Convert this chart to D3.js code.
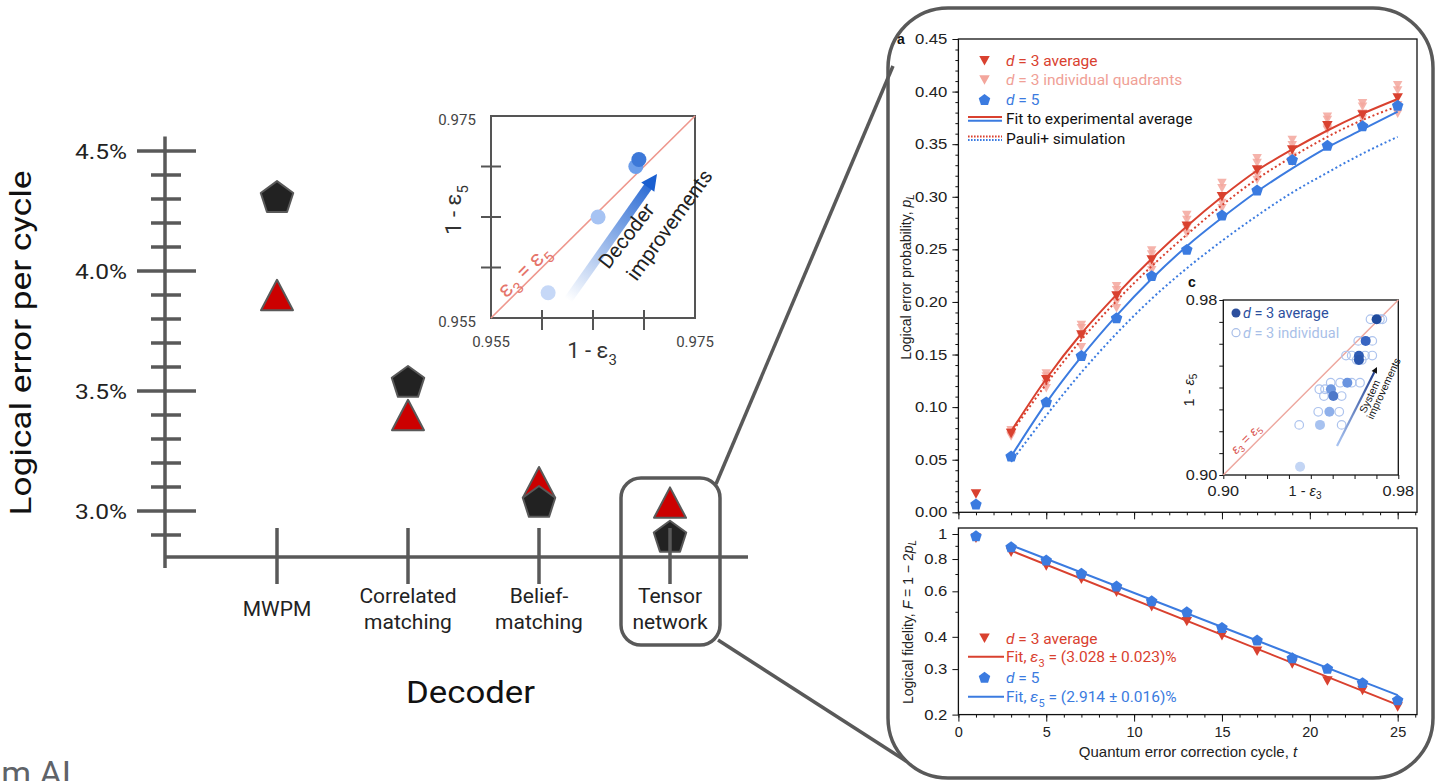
<!DOCTYPE html>
<html><head><meta charset="utf-8">
<script src="https://cdn.jsdelivr.net/npm/d3@7"></script>
<style>body{margin:0;background:#fff;} svg{display:block;}</style>
</head><body>
<script>
// ---------------- DATA ----------------
const decoders = ["MWPM", "Correlated\nmatching", "Belief-\nmatching", "Tensor\nnetwork"];
const errD3 = [3.90, 3.40, 3.12, 3.035];     // red triangles (d=3), %
const errD5 = [4.31, 3.54, 3.04, 2.895];     // black pentagons (d=5), %
const leftMajorTicks = [3.0, 3.5, 4.0, 4.5];
const leftTickLabels = ["3.0%", "3.5%", "4.0%", "4.5%"];
const triOnTop = [true, true, false, true];

const decInsetX = [0.9606, 0.9655, 0.9692, 0.9695];   // 1 - eps3
const decInsetY = [0.9575, 0.9650, 0.9700, 0.9707];   // 1 - eps5
const decInsetTicks = [0.960, 0.965, 0.970];
const decInsetLabels = ["0.955", "0.975"];

const cycles = [1,3,5,7,9,11,13,15,17,19,21,23,25];
const pD3avg = [0.0174,0.075,0.126,0.1685,0.2056,0.240,0.272,0.300,0.3254,0.3444,0.3675,0.3777,0.394];
const pD5    = [0.0079,0.0535,0.105,0.149,0.185,0.225,0.250,0.2826,0.3065,0.3355,0.349,0.3675,0.387];
const pD3quad = [
  [],
  [0.078,0.076,0.073,0.072],
  [0.132,0.129,0.122,0.118],
  [0.178,0.175,0.167,0.157],
  [0.215,0.211,0.200,0.194],
  [0.249,0.245,0.234,0.230],
  [0.2826,0.278,0.270,0.265],
  [0.313,0.308,0.294,0.289],
  [0.3365,0.332,0.3206,0.316],
  [0.354,0.349,0.338,0.333],
  [0.376,0.373,0.365,0.3634],
  [0.3888,0.3856,0.379,0.3745],
  [0.406,0.401,0.387,0.379]
];
const fitCycles = [3,5,7,9,11,13,15,17,19,21,23,25];
const pFitD3 = [0.077,0.127,0.170,0.207,0.241,0.272,0.300,0.325,0.345,0.363,0.379,0.393];
const pFitD5 = [0.053,0.104,0.148,0.187,0.222,0.253,0.280,0.305,0.327,0.347,0.364,0.381];
const pSimD3 = [0.075,0.122,0.164,0.201,0.234,0.264,0.292,0.317,0.338,0.357,0.373,0.386];
const pSimD5 = [0.048,0.092,0.133,0.170,0.203,0.232,0.258,0.282,0.304,0.323,0.341,0.357];
const pTickValues = [0,0.05,0.10,0.15,0.20,0.25,0.30,0.35,0.40,0.45];

const fD3 = [0.963,0.850,0.752,0.668,0.595,0.523,0.458,0.404,0.352,0.314,0.270,0.248,0.214];
const fD5 = [0.985,0.893,0.793,0.705,0.629,0.552,0.500,0.435,0.389,0.332,0.302,0.266,0.228];
const fitLineCycles = [3, 25];
const fFitD3 = [0.862, 0.218];
const fFitD5 = [0.905, 0.238];
const fTickValues = [0.2,0.3,0.4,0.6,0.8,1];
const fMinorValues = [0.5,0.7,0.9];
const cycleTicks = [0,5,10,15,20,25];

const cAvgX = [0.9351,0.9442,0.9485,0.9492,0.9503,0.9567,0.9620,0.9620,0.9651,0.9701];
const cAvgY = [0.9038,0.9229,0.9289,0.9392,0.9361,0.9422,0.9545,0.9526,0.9613,0.9712];
const cIndX = [0.9673,0.9716,0.9727,0.9617,0.9681,0.9561,0.9587,0.9648,0.9681,0.9610,0.9633,
               0.9491,0.9534,0.9587,0.9625,0.9439,0.9465,0.9460,0.9541,0.9434,0.9530,0.9347,0.9541];
const cIndY = [0.9712,0.9712,0.9712,0.9613,0.9613,0.9546,0.9546,0.9546,0.9546,0.9526,0.9526,
               0.9422,0.9422,0.9422,0.9422,0.9392,0.9392,0.9361,0.9361,0.9289,0.9289,0.9229,0.9229];
const cTickLabels = [0.90, 0.98];

// ---------------- STYLE ----------------
const AXC = "#595959";
const FL = "Roboto, 'Noto Sans', sans-serif";
const FR = "'Liberation Sans', Arial, sans-serif";
const RED = "#d9412f", PINK = "#f3a69c", BLUE = "#3b7be0";
const decInsetColors = ["#c6d8f7","#a6c3f3","#6d9eea","#3d78d8"];
const cAvgColors = ["#c3d5f4","#a7c2f0","#8fb0ea","#6f98e0","#4d78c9","#6a94df","#2f5cb5","#2a56ad","#3865c2","#1f4b9e"];

const svg = d3.select("body").append("svg").attr("width",1435).attr("height",781);
const defs = svg.append("defs");

function stretch(sel, k) {
  sel.each(function() {
    const w = this.getComputedTextLength();
    d3.select(this).attr("textLength", w * k).attr("lengthAdjust", "spacingAndGlyphs");
  });
  return sel;
}

// custom symbols (size = width^2)
const symTriUp = {draw(c,s){const w=Math.sqrt(s),h=w*0.95;c.moveTo(0,-h/2);c.lineTo(w/2,h/2);c.lineTo(-w/2,h/2);c.closePath();}};
const symTriDown = {draw(c,s){const w=Math.sqrt(s),h=w*0.9;c.moveTo(0,h/2);c.lineTo(w/2,-h/2);c.lineTo(-w/2,-h/2);c.closePath();}};
const symPent = {draw(c,s){const w=Math.sqrt(s),r=w/1.902,off=0.0955*r;for(let k=0;k<5;k++){const a=-Math.PI/2+k*2*Math.PI/5;const x=r*Math.cos(a),y=r*Math.sin(a)+off;k?c.lineTo(x,y):c.moveTo(x,y);}c.closePath();}};
const sym = (t,w) => d3.symbol().type(t).size(w*w)();

// ================= LEFT CHART =================
const xL = d3.scalePoint().domain(decoders).range([277, 670]);
const yL = d3.scaleLinear().domain([3.0, 4.5]).range([511, 151]);
const gM = svg.append("g");
decoders.forEach((d,i) => {
  const x = xL(d);
  const tri = () => gM.append("path").attr("d", sym(symTriUp, 32))
    .attr("transform", `translate(${x},${yL(errD3[i])})`)
    .attr("fill","#cc0000").attr("stroke",AXC).attr("stroke-width",2).attr("stroke-linejoin","round");
  const pent = () => gM.append("path").attr("d", sym(symPent, 32.5))
    .attr("transform", `translate(${x},${yL(errD5[i])})`)
    .attr("fill","#222").attr("stroke",AXC).attr("stroke-width",2).attr("stroke-linejoin","round");
  if (triOnTop[i]) { pent(); tri(); } else { tri(); pent(); }
});

const gAx = svg.append("g").attr("stroke", AXC).attr("stroke-width", 3.5);
gAx.append("line").attr("x1",165).attr("x2",165).attr("y1",yL(4.56)).attr("y2",yL(2.7625));
leftMajorTicks.forEach(v => gAx.append("line").attr("x1",137).attr("x2",196).attr("y1",yL(v)).attr("y2",yL(v)));
d3.range(29,45).filter(k => k%5 !== 0).forEach(k => {
  const y = yL(k/10);
  gAx.append("line").attr("x1",151).attr("x2",181).attr("y1",y).attr("y2",y);
});
gAx.append("line").attr("x1",165).attr("x2",748).attr("y1",557).attr("y2",557);
decoders.forEach(d => gAx.append("line").attr("x1",xL(d)).attr("x2",xL(d)).attr("y1",528).attr("y2",584));

leftMajorTicks.forEach((v,i) => svg.append("text").attr("x",127).attr("y",yL(v)+8)
  .attr("text-anchor","end").attr("font-family",FL).attr("font-size",21).attr("fill","#222")
  .attr("textLength",52).attr("lengthAdjust","spacingAndGlyphs").text(leftTickLabels[i]));

decoders.forEach(d => {
  const lines = d.split("\n"), n = lines.length;
  lines.forEach((s,k) => svg.append("text").attr("x",xL(d)).attr("y",616 + (k-(n-1)/2)*26)
    .attr("text-anchor","middle").attr("font-family",FL).attr("font-size",21).attr("fill","#222").text(s));
});
svg.append("text").attr("x",470.5).attr("y",703).attr("text-anchor","middle").attr("font-family",FL)
  .attr("font-size",32).attr("fill","#111").attr("textLength",129).attr("lengthAdjust","spacingAndGlyphs").text("Decoder");
svg.append("text").attr("transform","translate(31,343) rotate(-90)").attr("text-anchor","middle")
  .attr("font-family",FL).attr("font-size",29).attr("fill","#111")
  .attr("textLength",345).attr("lengthAdjust","spacingAndGlyphs").text("Logical error per cycle");

svg.append("text").attr("x",71).attr("y",785).attr("text-anchor","end").attr("font-family",FL)
  .attr("font-size",34).attr("fill","#5f6368").text("Google Quantum AI");

// Tensor network box & connectors
svg.append("rect").attr("x",621).attr("y",478).attr("width",99).attr("height",167).attr("rx",20)
  .attr("fill","none").attr("stroke",AXC).attr("stroke-width",3.5);
svg.append("line").attr("x1",716).attr("y1",484).attr("x2",893).attr("y2",66).attr("stroke",AXC).attr("stroke-width",3.5);
svg.append("line").attr("x1",718).attr("y1",640).attr("x2",906).attr("y2",761).attr("stroke",AXC).attr("stroke-width",3.5);

// ---------- left inset ----------
const xI = d3.scaleLinear().domain([0.955,0.975]).range([491,695]);
const yI = d3.scaleLinear().domain([0.955,0.975]).range([318,116]);
const gI = svg.append("g");
gI.append("rect").attr("x",xI(0.955)).attr("y",yI(0.975)).attr("width",xI(0.975)-xI(0.955))
  .attr("height",yI(0.955)-yI(0.975)).attr("fill","none").attr("stroke","#555").attr("stroke-width",2);
decInsetTicks.forEach(v => {
  gI.append("line").attr("x1",xI(0.955)-10).attr("x2",xI(0.955)+10).attr("y1",yI(v)).attr("y2",yI(v)).attr("stroke","#555").attr("stroke-width",2);
  gI.append("line").attr("y1",yI(0.955)-8).attr("y2",yI(0.955)+12).attr("x1",xI(v)).attr("x2",xI(v)).attr("stroke","#555").attr("stroke-width",2);
});
gI.append("line").attr("x1",xI(0.955)).attr("y1",yI(0.955)).attr("x2",xI(0.975)).attr("y2",yI(0.975))
  .attr("stroke","#ee978d").attr("stroke-width",1.6);
[0.955,0.975].forEach((v,i) => {
  gI.append("text").attr("x",xI(0.955)-34).attr("y",yI(v)+4).attr("dy","0.35em").attr("text-anchor","middle")
    .attr("font-family",FL).attr("font-size",15).attr("fill","#444").text(decInsetLabels[i]);
  gI.append("text").attr("x",xI(v)).attr("y",342).attr("dy","0.35em").attr("text-anchor","middle")
    .attr("font-family",FL).attr("font-size",15).attr("fill","#444").text(decInsetLabels[i]);
});
function epsLabel(sel, pre, sub, fs) {
  sel.append("tspan").text(pre);
  sel.append("tspan").text("ε");
  sel.append("tspan").attr("dy", fs*0.3).attr("font-size", fs*0.68).text(sub);
}
epsLabel(gI.append("text").attr("x",592).attr("y",358).attr("text-anchor","middle").attr("font-family",FL)
  .attr("font-size",22).attr("fill","#333"), "1 - ", "3", 22);
epsLabel(gI.append("text").attr("transform","translate(461,210) rotate(-90)").attr("text-anchor","middle").attr("font-family",FL)
  .attr("font-size",22).attr("fill","#333"), "1 - ", "5", 22);
{
  const px = 531, py = yI(xI.invert(px));
  const t = gI.append("text").attr("transform",`translate(${px},${py}) rotate(-44.7)`).attr("dy",-3)
    .attr("text-anchor","middle").attr("font-family",FL).attr("font-size",22).attr("fill","#e5756b");
  t.append("tspan").text("ε");
  t.append("tspan").attr("dy",6).attr("font-size",15).text("3");
  t.append("tspan").attr("dy",-6).text(" = ε");
  t.append("tspan").attr("dy",6).attr("font-size",15).text("5");
}
decInsetX.forEach((v,i) => gI.append("circle").attr("cx",xI(v)).attr("cy",yI(decInsetY[i])).attr("r",7.5).attr("fill",decInsetColors[i]));
{
  const x0=568,y0=300,x1=657,y1=174;
  const g = defs.append("linearGradient").attr("id","decGrad").attr("gradientUnits","userSpaceOnUse")
    .attr("x1",x0).attr("y1",y0).attr("x2",x1).attr("y2",y1);
  g.append("stop").attr("offset",0).attr("stop-color","#ffffff");
  g.append("stop").attr("offset",1).attr("stop-color","#1a5fd0");
  const L = Math.hypot(x1-x0,y1-y0), ux=(x1-x0)/L, uy=(y1-y0)/L, hl=16, hw=8;
  const bx=x1-ux*hl, by=y1-uy*hl;
  gI.append("line").attr("x1",x0).attr("y1",y0).attr("x2",bx+ux*2).attr("y2",by+uy*2).attr("stroke","url(#decGrad)").attr("stroke-width",9);
  gI.append("path").attr("d",`M${x1},${y1}L${bx-uy*hw},${by+ux*hw}L${bx+uy*hw},${by-ux*hw}Z`).attr("fill","#1a5fd0");
  gI.append("text").attr("transform","translate(632,240) rotate(-52)").attr("text-anchor","middle")
    .attr("font-family",FL).attr("font-size",20.5).attr("fill","#222").text("Decoder");
  gI.append("text").attr("transform","translate(675,229) rotate(-54)").attr("text-anchor","middle")
    .attr("font-family",FL).attr("font-size",20.5).attr("fill","#222").text("improvements");
}

// ================= RIGHT PANEL =================
svg.append("rect").attr("x",888).attr("y",8).attr("width",545).attr("height",770).attr("rx",60)
  .attr("fill","none").attr("stroke",AXC).attr("stroke-width",3.5);

const xA = d3.scaleLinear().domain([0,26.1]).range([958.4,1417]);
const yA = d3.scaleLinear().domain([0,0.45]).range([512.3,39]);
const yB = d3.scaleLog().domain([0.2,1.055]).range([714.6,528]);

function styleAxis(g, k) {
  g.select(".domain").remove();
  g.selectAll("line").attr("stroke","#111").attr("stroke-width",1);
  const t = g.selectAll("text").attr("font-family",FR).attr("font-size",14.5).attr("fill","#222");
  if (k) stretch(t, k);
}
// plot a axes
svg.append("g").attr("transform",`translate(${xA(0)},0)`)
  .call(d3.axisLeft(yA).tickValues(d3.range(0,46).map(k=>k/100)).tickSize(3).tickFormat("")).call(styleAxis);
svg.append("g").attr("transform",`translate(${xA(0)},0)`)
  .call(d3.axisLeft(yA).tickValues(pTickValues).tickSize(6).tickPadding(5).tickFormat(d3.format(".2f"))).call(g => styleAxis(g, 1.15));
svg.append("g").attr("transform",`translate(0,${yA(0)})`)
  .call(d3.axisBottom(xA).tickValues(d3.range(0,27)).tickSize(3).tickFormat("")).call(styleAxis);
svg.append("g").attr("transform",`translate(0,${yA(0)})`)
  .call(d3.axisBottom(xA).tickValues(cycleTicks).tickSize(7).tickFormat("")).call(styleAxis);
svg.append("rect").attr("x",xA(0)).attr("y",yA(0.45)).attr("width",xA(26.1)-xA(0)).attr("height",yA(0)-yA(0.45))
  .attr("fill","none").attr("stroke","#111").attr("stroke-width",1.3);
svg.append("text").attr("x",897).attr("y",44).attr("font-family",FR).attr("font-weight","bold").attr("font-size",14).attr("fill","#111").text("a");
{
  const t = svg.append("text").attr("transform","translate(911,277) rotate(-90)").attr("text-anchor","middle")
    .attr("font-family",FR).attr("font-size",14).attr("fill","#222");
  t.append("tspan").text("Logical error probability, ");
  t.append("tspan").attr("font-style","italic").text("p");
  t.append("tspan").attr("dy",3).attr("font-size",10).attr("font-style","italic").text("L");
}

// plot a data
const gA = svg.append("g");
cycles.forEach((c,i) => pD3quad[i].forEach(v =>
  gA.append("path").attr("d",sym(symTriDown,9.5)).attr("transform",`translate(${xA(c)},${yA(v)})`).attr("fill",PINK).attr("opacity",0.85)));
const lineA = (xs,ys) => d3.line().curve(d3.curveMonotoneX)(xs.map((c,i)=>[xA(c),yA(ys[i])]));
gA.append("path").attr("d",lineA(fitCycles,pSimD5)).attr("fill","none").attr("stroke",BLUE).attr("stroke-width",2).attr("stroke-dasharray","2,2.6");
gA.append("path").attr("d",lineA(fitCycles,pSimD3)).attr("fill","none").attr("stroke",RED).attr("stroke-width",2).attr("stroke-dasharray","2,2.6");
gA.append("path").attr("d",lineA(fitCycles,pFitD5)).attr("fill","none").attr("stroke",BLUE).attr("stroke-width",2);
gA.append("path").attr("d",lineA(fitCycles,pFitD3)).attr("fill","none").attr("stroke",RED).attr("stroke-width",2);
cycles.forEach((c,i) => gA.append("path").attr("d",sym(symTriDown,10.5)).attr("transform",`translate(${xA(c)},${yA(pD3avg[i])})`).attr("fill",RED));
cycles.forEach((c,i) => gA.append("path").attr("d",sym(symPent,11.5)).attr("transform",`translate(${xA(c)},${yA(pD5[i])})`).attr("fill",BLUE));

// plot a legend
{
  const lx = 984.5, tx = 1006, fs = 15.5;
  const rows = [60.7, 80, 99.5, 119, 138.3];
  const lg = svg.append("g").attr("font-family",FL).attr("font-size",fs);
  lg.append("path").attr("d",sym(symTriDown,10.5)).attr("transform",`translate(${lx},${rows[0]})`).attr("fill",RED);
  lg.append("path").attr("d",sym(symTriDown,10.5)).attr("transform",`translate(${lx},${rows[1]})`).attr("fill",PINK);
  lg.append("path").attr("d",sym(symPent,11.5)).attr("transform",`translate(${lx},${rows[2]})`).attr("fill",BLUE);
  const dl = (y, col, txt) => { const t = lg.append("text").attr("x",tx).attr("y",y).attr("dy","0.35em").attr("fill",col);
    t.append("tspan").attr("font-style","italic").text("d"); t.append("tspan").text(txt); };
  dl(rows[0], RED, " = 3 average");
  dl(rows[1], "#f0a096", " = 3 individual quadrants");
  dl(rows[2], BLUE, " = 5");
  lg.append("line").attr("x1",968).attr("x2",1002).attr("y1",rows[3]-2).attr("y2",rows[3]-2).attr("stroke",RED).attr("stroke-width",2);
  lg.append("line").attr("x1",968).attr("x2",1002).attr("y1",rows[3]+1.8).attr("y2",rows[3]+1.8).attr("stroke",BLUE).attr("stroke-width",2);
  lg.append("line").attr("x1",968).attr("x2",1002).attr("y1",rows[4]-1.8).attr("y2",rows[4]-1.8).attr("stroke",RED).attr("stroke-width",2).attr("stroke-dasharray","1.6,1.4");
  lg.append("line").attr("x1",968).attr("x2",1002).attr("y1",rows[4]+1.8).attr("y2",rows[4]+1.8).attr("stroke",BLUE).attr("stroke-width",2).attr("stroke-dasharray","1.6,1.4");
  lg.append("text").attr("x",tx).attr("y",rows[3]).attr("dy","0.35em").attr("fill","#111").text("Fit to experimental average");
  lg.append("text").attr("x",tx).attr("y",rows[4]).attr("dy","0.35em").attr("fill","#111").text("Pauli+ simulation");
}

// plot b axes
svg.append("g").attr("transform",`translate(${xA(0)},0)`)
  .call(d3.axisLeft(yB).tickValues(fMinorValues).tickSize(3).tickFormat("")).call(styleAxis);
svg.append("g").attr("transform",`translate(${xA(0)},0)`)
  .call(d3.axisLeft(yB).tickValues(fTickValues).tickSize(6).tickPadding(5).tickFormat(d => d===1 ? "1" : d3.format(".1f")(d))).call(g => styleAxis(g, 1.15));
svg.append("g").attr("transform",`translate(0,${yB(0.2)})`)
  .call(d3.axisBottom(xA).tickValues(d3.range(0,27)).tickSize(3).tickFormat("")).call(styleAxis);
svg.append("g").attr("transform",`translate(0,${yB(0.2)})`)
  .call(d3.axisBottom(xA).tickValues(cycleTicks).tickSize(7).tickPadding(5)).call(styleAxis);
svg.append("rect").attr("x",xA(0)).attr("y",yB(1.055)).attr("width",xA(26.1)-xA(0)).attr("height",yB(0.2)-yB(1.055))
  .attr("fill","none").attr("stroke","#111").attr("stroke-width",1.3);
{
  const t = svg.append("text").attr("transform","translate(913,622) rotate(-90)").attr("text-anchor","middle")
    .attr("font-family",FR).attr("font-size",14).attr("fill","#222");
  t.append("tspan").text("Logical fidelity, ");
  t.append("tspan").attr("font-style","italic").text("F");
  t.append("tspan").text(" = 1 − 2");
  t.append("tspan").attr("font-style","italic").text("p");
  t.append("tspan").attr("dy",3).attr("font-size",10).attr("font-style","italic").text("L");
  const x = svg.append("text").attr("x",1188).attr("y",757).attr("text-anchor","middle")
    .attr("font-family",FR).attr("font-size",15).attr("fill","#222");
  x.append("tspan").text("Quantum error correction cycle, ");
  x.append("tspan").attr("font-style","italic").text("t");
}
const gB = svg.append("g");
const lineB = (xs,ys) => d3.line()(xs.map((c,i)=>[xA(c),yB(ys[i])]));
gB.append("path").attr("d",lineB(fitLineCycles,fFitD3)).attr("stroke",RED).attr("stroke-width",2).attr("fill","none");
gB.append("path").attr("d",lineB(fitLineCycles,fFitD5)).attr("stroke",BLUE).attr("stroke-width",2).attr("fill","none");
cycles.forEach((c,i) => gB.append("path").attr("d",sym(symTriDown,10.5)).attr("transform",`translate(${xA(c)},${yB(fD3[i])})`).attr("fill",RED));
cycles.forEach((c,i) => gB.append("path").attr("d",sym(symPent,11.5)).attr("transform",`translate(${xA(c)},${yB(fD5[i])})`).attr("fill",BLUE));
{
  const lx = 984.5, tx = 1006, fs = 15.5;
  const rows = [638.3, 656.7, 677.3, 696.7];
  const lg = svg.append("g").attr("font-family",FL).attr("font-size",fs);
  lg.append("path").attr("d",sym(symTriDown,10.5)).attr("transform",`translate(${lx},${rows[0]})`).attr("fill",RED);
  lg.append("path").attr("d",sym(symPent,11.5)).attr("transform",`translate(${lx},${rows[2]})`).attr("fill",BLUE);
  lg.append("line").attr("x1",968).attr("x2",1004).attr("y1",rows[1]).attr("y2",rows[1]).attr("stroke",RED).attr("stroke-width",2);
  lg.append("line").attr("x1",968).attr("x2",1004).attr("y1",rows[3]).attr("y2",rows[3]).attr("stroke",BLUE).attr("stroke-width",2);
  const dl = (y, col, txt) => { const t = lg.append("text").attr("x",tx).attr("y",y).attr("dy","0.35em").attr("fill",col);
    t.append("tspan").attr("font-style","italic").text("d"); t.append("tspan").text(txt); };
  dl(rows[0], RED, " = 3 average");
  dl(rows[2], BLUE, " = 5");
  const fl = (y, col, sub, txt) => { const t = lg.append("text").attr("x",tx).attr("y",y).attr("dy","0.35em").attr("fill",col);
    t.append("tspan").text("Fit, "); t.append("tspan").attr("font-style","italic").text("ε");
    t.append("tspan").attr("dy",5).attr("font-size",11).text(sub); t.append("tspan").attr("dy",-5).text(txt); };
  fl(rows[1], RED, "3", " = (3.028 ± 0.023)%");
  fl(rows[3], BLUE, "5", " = (2.914 ± 0.016)%");
}

// ---------- inset c ----------
const xC = d3.scaleLinear().domain([0.90,0.98]).range([1223.3,1398.3]);
const yC = d3.scaleLinear().domain([0.90,0.98]).range([475,300]);
{
  const g = svg.append("g");
  g.append("rect").attr("x",xC(0.90)).attr("y",yC(0.98)).attr("width",xC(0.98)-xC(0.90)).attr("height",yC(0.90)-yC(0.98))
    .attr("fill","#fff").attr("stroke","#111").attr("stroke-width",1.3);
  g.append("g").attr("transform",`translate(${xC(0.90)},0)`)
    .call(d3.axisLeft(yC).tickValues(d3.range(90,99).map(k=>k/100)).tickSize(4).tickFormat("")).call(styleAxis);
  g.append("g").attr("transform",`translate(0,${yC(0.90)})`)
    .call(d3.axisBottom(xC).tickValues(d3.range(90,99).map(k=>k/100)).tickSize(4).tickFormat("")).call(styleAxis);
  cTickLabels.forEach(v => {
    stretch(g.append("text").attr("x",xC(0.90)-6).attr("y",yC(v)).attr("dy","0.35em").attr("text-anchor","end")
      .attr("font-family",FR).attr("font-size",14.5).attr("fill","#222").text(d3.format(".2f")(v)), 1.12);
    stretch(g.append("text").attr("x",xC(v)).attr("y",496).attr("text-anchor","middle")
      .attr("font-family",FR).attr("font-size",14.5).attr("fill","#222").text(d3.format(".2f")(v)), 1.12);
  });
  const xt = g.append("text").attr("x",1305).attr("y",496).attr("text-anchor","middle").attr("font-family",FR).attr("font-size",14.5).attr("fill","#222");
  xt.append("tspan").text("1 - "); xt.append("tspan").attr("font-style","italic").text("ε");
  xt.append("tspan").attr("dy",3).attr("font-size",10).text("3");
  const yt = g.append("text").attr("transform","translate(1194,390) rotate(-90)").attr("text-anchor","middle").attr("font-family",FR).attr("font-size",14.5).attr("fill","#222");
  yt.append("tspan").text("1 - "); yt.append("tspan").attr("font-style","italic").text("ε");
  yt.append("tspan").attr("dy",3).attr("font-size",10).text("5");
  g.append("text").attr("x",1188).attr("y",287).attr("font-family",FR).attr("font-weight","bold").attr("font-size",14).attr("fill","#111").text("c");
  g.append("line").attr("x1",xC(0.90)).attr("y1",yC(0.90)).attr("x2",xC(0.98)).attr("y2",yC(0.98)).attr("stroke","#eda79e").attr("stroke-width",1.5);
  const el = g.append("text").attr("transform",`translate(1249,442) rotate(-45)`).attr("text-anchor","middle")
    .attr("font-family",FR).attr("font-size",13).attr("fill","#d9534f");
  el.append("tspan").attr("font-style","italic").text("ε"); el.append("tspan").attr("dy",3).attr("font-size",9).text("3");
  el.append("tspan").attr("dy",-3).text(" = "); el.append("tspan").attr("font-style","italic").text("ε");
  el.append("tspan").attr("dy",3).attr("font-size",9).text("5");
  cIndX.forEach((v,i) => g.append("circle").attr("cx",xC(v)).attr("cy",yC(cIndY[i])).attr("r",4.3)
    .attr("fill","none").attr("stroke","#aec4ee").attr("stroke-width",1.2));
  cAvgX.forEach((v,i) => g.append("circle").attr("cx",xC(v)).attr("cy",yC(cAvgY[i])).attr("r",5).attr("fill",cAvgColors[i]));
  const x0=1337,y0=446,x1=1377,y1=367;
  const gr = defs.append("linearGradient").attr("id","sysGrad").attr("gradientUnits","userSpaceOnUse")
    .attr("x1",x0).attr("y1",y0).attr("x2",x1).attr("y2",y1);
  gr.append("stop").attr("offset",0).attr("stop-color","#a9c4f2");
  gr.append("stop").attr("offset",1).attr("stop-color","#1c3a8a");
  const L=Math.hypot(x1-x0,y1-y0),ux=(x1-x0)/L,uy=(y1-y0)/L,bx=x1-ux*6,by=y1-uy*6;
  g.append("line").attr("x1",x0).attr("y1",y0).attr("x2",bx).attr("y2",by).attr("stroke","url(#sysGrad)").attr("stroke-width",2.2);
  g.append("path").attr("d",`M${x1},${y1}L${bx-uy*3},${by+ux*3}L${bx+uy*3},${by-ux*3}Z`).attr("fill","#111");
  g.append("text").attr("transform","translate(1373,398) rotate(-65)").attr("text-anchor","middle")
    .attr("font-family",FR).attr("font-size",10.5).attr("fill","#111").text("System");
  g.append("text").attr("transform","translate(1387,390) rotate(-65)").attr("text-anchor","middle")
    .attr("font-family",FR).attr("font-size",10.5).attr("fill","#111").text("improvements");
  g.append("circle").attr("cx",1236).attr("cy",313).attr("r",4.5).attr("fill","#2c4f9e");
  g.append("circle").attr("cx",1236).attr("cy",332.7).attr("r",4).attr("fill","none").attr("stroke","#a9bfe8").attr("stroke-width",1.2);
  const l1 = g.append("text").attr("x",1243).attr("y",313).attr("dy","0.35em").attr("font-family",FL).attr("font-size",14.5).attr("fill","#2c4f9e");
  l1.append("tspan").attr("font-style","italic").text("d"); l1.append("tspan").text(" = 3 average");
  const l2 = g.append("text").attr("x",1243).attr("y",332.7).attr("dy","0.35em").attr("font-family",FL).attr("font-size",14.5).attr("fill","#a9bfe8");
  l2.append("tspan").attr("font-style","italic").text("d"); l2.append("tspan").text(" = 3 individual");
}
</script>
</body></html>
